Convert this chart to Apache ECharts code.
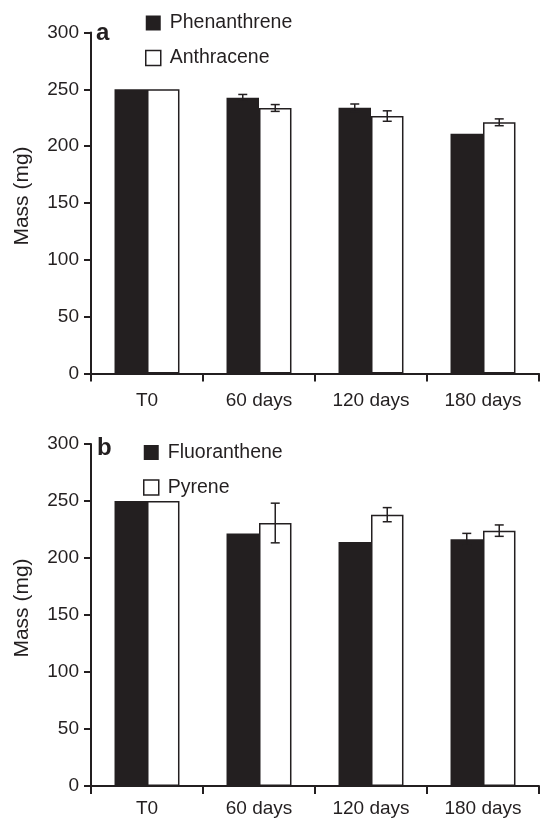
<!DOCTYPE html>
<html>
<head>
<meta charset="utf-8">
<script src="https://cdn.jsdelivr.net/npm/echarts@6/dist/echarts.min.js"></script>
<style>
  html, body { margin: 0; padding: 0; background: #fff; }
  #chart { width: 541px; height: 818px; }
</style>
</head>
<body>
<div id="chart"></div>
<script>
var categories = ['T0', '60 days', '120 days', '180 days'];
var yTicks = [0, 50, 100, 150, 200, 250, 300];

// panel a
var phenanthrene = [250, 242.5, 233.8, 211];
var phenanthreneErr = [0, 3, 3.3, 0];
var anthracene = [250, 233.6, 226.5, 221];
var anthraceneErr = [0, 3, 4.6, 3];

// panel b
var fluoranthene = [250, 221.6, 214, 216.4];
var fluorantheneErr = [0, 0, 0, 5.2];
var pyrene = [250, 230.7, 238, 224];
var pyreneErr = [0, 17.4, 6.2, 5];

var ink = '#231f20';
var font = "'Liberation Sans', Arial, sans-serif";

var chart = echarts.init(document.getElementById('chart'));

function errData(vals, errs) {
    return categories.map(function (c, i) { return [i, vals[i], errs[i]]; });
}

// side: -1 left bar, +1 right bar
function errorRenderer(side) {
    return function (params, api) {
        var idx = api.value(0), v = api.value(1), e = api.value(2);
        if (!e) return;
        var band = api.size([1, 0])[0];
        var top = api.coord([idx, v + e]);
        var bot = api.coord([idx, v - e]);
        var x = top[0] + side * band * 0.145;
        var cap = 4.5;
        var st = { stroke: ink, lineWidth: 1.5 };
        return {
            type: 'group',
            children: [
                { type: 'line', shape: { x1: x, y1: top[1], x2: x, y2: bot[1] }, style: st },
                { type: 'line', shape: { x1: x - cap, y1: top[1], x2: x + cap, y2: top[1] }, style: st },
                { type: 'line', shape: { x1: x - cap, y1: bot[1], x2: x + cap, y2: bot[1] }, style: st }
            ]
        };
    };
}

function xAxis(gridIndex, margin) {
    return {
        type: 'category', gridIndex: gridIndex, data: categories,
        axisLine: { lineStyle: { color: ink, width: 2 } },
        axisTick: { show: true, length: 8, lineStyle: { color: ink, width: 2 } },
        axisLabel: { color: ink, fontSize: 19, fontFamily: font, margin: margin, interval: 0 }
    };
}

function yAxis(gridIndex) {
    return {
        type: 'value', gridIndex: gridIndex, min: yTicks[0], max: yTicks[yTicks.length - 1], interval: 50,
        name: 'Mass (mg)', nameLocation: 'middle', nameGap: 58,
        nameTextStyle: { color: ink, fontSize: 21, fontFamily: font, padding: [0, 0, 0, 14] },
        axisLine: { show: true, lineStyle: { color: ink, width: 2 } },
        axisTick: { show: true, length: 7, lineStyle: { color: ink, width: 2 } },
        axisLabel: { color: ink, fontSize: 19, fontFamily: font, margin: 12 },
        splitLine: { show: false }
    };
}

function barSeries(name, data, idx, white) {
    return {
        name: name, type: 'bar', xAxisIndex: idx, yAxisIndex: idx, data: data,
        barWidth: '29%', barGap: '0%', animation: false,
        itemStyle: white ? { color: '#fff', borderColor: ink, borderWidth: 1.5 } : { color: ink }
    };
}

function errSeries(vals, errs, idx, side) {
    return {
        type: 'custom', xAxisIndex: idx, yAxisIndex: idx, z: 5, animation: false,
        renderItem: errorRenderer(side), encode: { x: 0, y: 1 },
        data: errData(vals, errs)
    };
}

function legend(names, left, top) {
    return {
        orient: 'vertical', left: left, top: top, padding: 0,
        itemWidth: 15, itemHeight: 15, itemGap: 15, icon: 'rect',
        textStyle: { color: ink, fontSize: 19.5, fontFamily: font, padding: [0, 0, 0, 4] },
        data: [
            { name: names[0], itemStyle: { color: ink } },
            { name: names[1], itemStyle: { color: '#fff', borderColor: ink, borderWidth: 1.5 } }
        ]
    };
}

var option = {
    backgroundColor: '#fff',
    animation: false,
    grid: [
        { left: 91, right: 2, top: 32.5, height: 341 },
        { left: 91, right: 2, top: 444, height: 343 }
    ],
    legend: [
        legend(['Phenanthrene', 'Anthracene'], 145, 13),
        legend(['Fluoranthene', 'Pyrene'], 143, 442.5)
    ],
    graphic: [
        { type: 'text', left: 96, top: 21, style: { text: 'a', font: 'bold 24px ' + font, fill: ink } },
        { type: 'text', left: 97, top: 436, style: { text: 'b', font: 'bold 24px ' + font, fill: ink } }
    ],
    xAxis: [xAxis(0, 18), xAxis(1, 13)],
    yAxis: [yAxis(0), yAxis(1)],
    series: [
        barSeries('Phenanthrene', phenanthrene, 0, false),
        barSeries('Anthracene', anthracene, 0, true),
        errSeries(phenanthrene, phenanthreneErr, 0, -1),
        errSeries(anthracene, anthraceneErr, 0, 1),
        barSeries('Fluoranthene', fluoranthene, 1, false),
        barSeries('Pyrene', pyrene, 1, true),
        errSeries(fluoranthene, fluorantheneErr, 1, -1),
        errSeries(pyrene, pyreneErr, 1, 1)
    ]
};

chart.setOption(option);
</script>
</body>
</html>
